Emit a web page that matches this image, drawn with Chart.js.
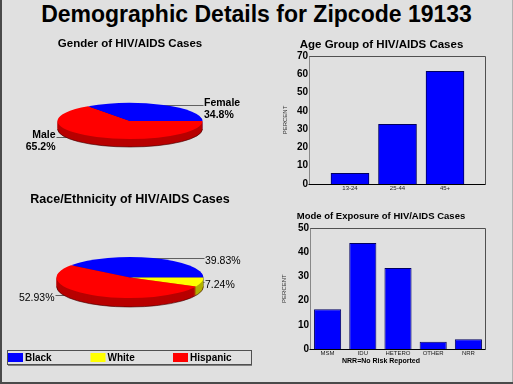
<!DOCTYPE html>
<html>
<head>
<meta charset="utf-8">
<script src="https://cdn.jsdelivr.net/npm/chart.js@4.4.1/dist/chart.umd.min.js"></script>
<style>
  body { margin: 0; }
  #page {
    position: relative; width: 513px; height: 384px; overflow: hidden;
    background: #e0e0e0;
    box-shadow: inset 2px -2px 0 #4a4a4a, inset -1px 0 0 #b0b0b0;
    font-family: 'Liberation Sans', Arial, sans-serif;
  }
  #mainTitle {
    position: absolute; left: 0; top: 1px; width: 513px;
    text-align: center; font-weight: bold; font-size: 23px; line-height: 26px;
  }
  canvas { position: absolute; }
  #genderChart { left: 0; top: 30px; }
  #raceChart { left: 0; top: 185px; }
  #ageChart { left: 277px; top: 36px; }
  #exposureChart { left: 276px; top: 205px; }
</style>
</head>
<body>
<div id="page">
  <div id="mainTitle">Demographic Details for Zipcode 19133</div>
  <canvas id="genderChart" width="260" height="170"></canvas>
  <canvas id="raceChart" width="260" height="185"></canvas>
  <canvas id="ageChart" width="225" height="160"></canvas>
  <canvas id="exposureChart" width="226" height="162"></canvas>
</div>
<script>
// data
const genderLabels = ['Male', 'Female'];
const genderValues = [65.2, 34.8];

const raceLabels = ['Black', 'White', 'Hispanic'];
const raceValues = [39.83, 7.24, 52.93];

const ageGroups = ['13-24', '25-44', '45+'];
const agePercents = [5.8, 32.6, 61.6];

const exposureModes = ['MSM', 'IDU', 'HETERO', 'OTHER', 'NRR'];
const exposurePercents = [16.5, 43.8, 33.5, 3.0, 4.1];

// colours
const BLUE = '#0000ff', RED = '#ff0000', YELLOW = '#ffff00';
const FONT = "'Liberation Sans', Arial, sans-serif";

Chart.defaults.font.family = FONT;
Chart.defaults.color = '#000';

// squashes a pie into a tilted disc, with a side wall and leader-line labels
const pie3d = {
    id: 'pie3d',
    beforeDatasetsDraw(chart, args, o) {
        const ctx = chart.ctx;
        const arcs = chart.getDatasetMeta(0).data;
        const cx = arcs[0].x, cy = arcs[0].y, r = arcs[0].outerRadius;
        const k = o.ry / r;

        // leader lines sit behind the disc
        ctx.save();
        ctx.strokeStyle = '#606060';
        ctx.lineWidth = 1;
        arcs.forEach(a => {
            const m = (a.startAngle + a.endAngle) / 2;
            const px = cx + r * Math.cos(m), py = Math.round(o.cy + o.ry * Math.sin(m)) + 0.5;
            const ex = Math.cos(m) >= 0 ? cx + r + 1 : cx - r - 1;
            ctx.beginPath(); ctx.moveTo(px, py); ctx.lineTo(ex, py); ctx.stroke();
        });
        ctx.restore();

        // side wall
        for (let d = o.depth; d >= 1; d--) {
            arcs.forEach((a, i) => {
                ctx.save();
                ctx.translate(cx, o.cy + d);
                ctx.scale(1, k);
                ctx.beginPath();
                ctx.moveTo(0, 0);
                ctx.arc(0, 0, r, a.startAngle, a.endAngle);
                ctx.closePath();
                ctx.fillStyle = o.sideColors[i];
                ctx.fill();
                ctx.restore();
            });
        }
        ctx.save();
        ctx.translate(cx, o.cy + o.depth);
        ctx.scale(1, k);
        ctx.beginPath();
        ctx.arc(0, 0, r, 0, Math.PI);
        ctx.restore();
        ctx.strokeStyle = 'rgba(60,0,0,0.6)';
        ctx.lineWidth = 1;
        ctx.stroke();

        // top face, drawn by the library
        ctx.save();
        ctx.translate(cx, o.cy);
        ctx.scale(1, k);
        ctx.translate(-cx, -cy);
    },
    afterDatasetsDraw(chart, args, o) {
        const ctx = chart.ctx;
        ctx.restore();
        const arcs = chart.getDatasetMeta(0).data;
        const cx = arcs[0].x, r = arcs[0].outerRadius;
        const values = chart.data.datasets[0].data;
        ctx.save();
        ctx.font = o.font;
        ctx.fillStyle = '#000';
        ctx.textBaseline = 'middle';
        arcs.forEach((a, i) => {
            const m = (a.startAngle + a.endAngle) / 2;
            const py = Math.round(o.cy + o.ry * Math.sin(m)) + 0.5;
            const right = Math.cos(m) >= 0;
            ctx.textAlign = right ? 'left' : 'right';
            const tx = right ? cx + r + 1.5 : cx - r - 2;
            const lines = o.format(chart.data.labels[i], values[i]);
            const y0 = lines.length > 1 ? py - 2.5 : py + 3;
            lines.forEach((t, j) => ctx.fillText(t, tx, y0 + j * 12));
        });
        ctx.restore();
    }
};

// boxed legend with evenly spaced entries
const boxLegend = {
    id: 'boxLegend',
    afterDraw(chart, args, o) {
        const ctx = chart.ctx;
        const colors = chart.data.datasets[0].backgroundColor;
        ctx.save();
        ctx.strokeStyle = '#505050';
        ctx.lineWidth = 1;
        ctx.strokeRect(o.x + 0.5, o.y + 0.5, o.w, o.h);
        ctx.beginPath();
        ctx.moveTo(o.x + 1, o.y + o.h + 1.5);
        ctx.lineTo(o.x + o.w + 1, o.y + o.h + 1.5);
        ctx.strokeStyle = '#808080';
        ctx.stroke();
        ctx.font = 'bold 10px ' + FONT;
        ctx.textBaseline = 'middle';
        chart.data.labels.forEach((lab, i) => {
            const x = o.x + 1 + i * o.step;
            ctx.fillStyle = colors[i];
            ctx.fillRect(x, o.y + 3, 15, 9);
            ctx.fillStyle = '#000';
            ctx.fillText(lab, x + 17, o.y + 8);
        });
        ctx.restore();
    }
};

// frame round the plot area
const plotFrame = {
    id: 'plotFrame',
    afterDatasetsDraw(chart) {
        const {ctx, chartArea: {left, top, right, bottom}} = chart;
        const l = Math.round(left) + 0.5, t = Math.round(top) + 0.5;
        const r = Math.round(right) - 0.5, b = Math.round(bottom) + 0.5;
        ctx.save();
        ctx.lineWidth = 1;
        ctx.strokeStyle = '#505050';
        ctx.beginPath(); ctx.moveTo(l, t); ctx.lineTo(r, t); ctx.lineTo(r, b); ctx.stroke();
        ctx.setLineDash([1, 1]);
        ctx.strokeStyle = '#303030';
        ctx.beginPath(); ctx.moveTo(l, t); ctx.lineTo(l, b); ctx.stroke();
        ctx.setLineDash([]);
        ctx.strokeStyle = '#000';
        ctx.beginPath(); ctx.moveTo(l - 1, b); ctx.lineTo(r, b); ctx.stroke();
        ctx.restore();
    }
};

const baseOpts = {
    responsive: false,
    devicePixelRatio: 1,
    animation: false,
    events: []
};

// Gender pie
new Chart(document.getElementById('genderChart'), {
    type: 'pie',
    data: {
        labels: genderLabels,
        datasets: [{ data: genderValues, backgroundColor: [RED, BLUE], borderWidth: 0 }]
    },
    options: {
        ...baseOpts,
        rotation: 90,
        layout: { padding: { bottom: 2.2 } },
        plugins: {
            legend: { display: false },
            tooltip: { enabled: false },
            title: {
                display: true, text: 'Gender of HIV/AIDS Cases',
                font: { size: 11.5, weight: 'bold' }, padding: { top: 7, bottom: 2 }
            },
            pie3d: {
                cy: 91, ry: 18, depth: 8,
                sideColors: ['#b80000', '#0000a0'],
                font: 'bold 10.5px ' + FONT,
                format: (lab, v) => [lab, v.toFixed(1) + '%']
            }
        }
    },
    plugins: [pie3d]
});

// Race pie
new Chart(document.getElementById('raceChart'), {
    type: 'pie',
    data: {
        labels: raceLabels,
        datasets: [{ data: raceValues, backgroundColor: [BLUE, YELLOW, RED], borderWidth: 0 }]
    },
    options: {
        ...baseOpts,
        rotation: 90 - 3.6 * raceValues[0],
        layout: { padding: { bottom: 14 } },
        plugins: {
            legend: { display: false },
            tooltip: { enabled: false },
            title: {
                display: true, text: 'Race/Ethnicity of HIV/AIDS Cases',
                font: { size: 12.5, weight: 'bold' }, padding: { top: 7, bottom: 2 }
            },
            pie3d: {
                cy: 92.5, ry: 20.5, depth: 9,
                sideColors: ['#0000a0', '#b0b000', '#b80000'],
                font: '10.5px ' + FONT,
                format: (lab, v) => [v.toFixed(2) + '%']
            },
            boxLegend: { x: 7, y: 165, w: 244, h: 14, step: 82.5 }
        }
    },
    plugins: [pie3d, boxLegend]
});

// Age group bars (linear index axis so the bars sit closer than a full third)
new Chart(document.getElementById('ageChart'), {
    type: 'bar',
    data: {
        datasets: [{
            data: agePercents.map((v, i) => ({ x: i, y: v })),
            backgroundColor: BLUE, borderColor: '#000060', borderWidth: 1,
            barThickness: 38
        }]
    },
    options: {
        ...baseOpts,
        layout: { padding: { right: 16 } },
        scales: {
            x: {
                type: 'linear', min: -0.863, max: 2.863, offset: false,
                grid: { display: false, drawTicks: false, offset: false }, border: { display: false },
                afterBuildTicks: s => { s.ticks = ageGroups.map((g, i) => ({ value: i })); },
                afterFit: s => { s.height = 12; },
                ticks: { callback: v => ageGroups[v], font: { size: 6 }, color: '#222', padding: 1, maxRotation: 0, autoSkip: false }
            },
            y: {
                min: 0, max: 70,
                grid: { display: false, drawTicks: false }, border: { display: false },
                afterFit: s => { s.width = 32; },
                ticks: { stepSize: 10, font: { size: 10, weight: 'bold' }, padding: 1 },
                title: { display: true, text: 'PERCENT', font: { size: 6 }, color: '#333', padding: { top: 4.4, bottom: 0 } }
            }
        },
        plugins: {
            legend: { display: false },
            tooltip: { enabled: false },
            title: {
                display: true, text: 'Age Group of HIV/AIDS Cases',
                font: { size: 11.5, weight: 'bold' }, padding: { top: 2, bottom: 4.2 }
            }
        }
    },
    plugins: [plotFrame]
});

// Mode of exposure bars
new Chart(document.getElementById('exposureChart'), {
    type: 'bar',
    data: {
        labels: exposureModes,
        datasets: [{
            data: exposurePercents,
            backgroundColor: BLUE, borderColor: '#000060', borderWidth: 1,
            barPercentage: 0.77, categoryPercentage: 1
        }]
    },
    options: {
        ...baseOpts,
        layout: { padding: { right: 16 } },
        scales: {
            x: {
                grid: { display: false, drawTicks: false }, border: { display: false },
                afterFit: s => { s.height = 7.5; },
                ticks: { font: { size: 6 }, color: '#222', padding: 0.5, maxRotation: 0, autoSkip: false }
            },
            y: {
                min: 0, max: 50,
                grid: { display: false, drawTicks: false }, border: { display: false },
                afterFit: s => { s.width = 34; },
                ticks: { stepSize: 10, font: { size: 10, weight: 'bold' }, padding: 1 },
                title: { display: true, text: 'PERCENT', font: { size: 6 }, color: '#333', padding: { top: 4.4, bottom: 0 } }
            }
        },
        plugins: {
            legend: { display: false },
            tooltip: { enabled: false },
            title: {
                display: true, text: 'Mode of Exposure of HIV/AIDS Cases',
                font: { size: 9.5, weight: 'bold' }, padding: { top: 5.3, bottom: 6.3 }
            },
            subtitle: {
                display: true, position: 'bottom', text: 'NRR=No Risk Reported',
                font: { size: 7, weight: 'bold' }, padding: { top: 0, bottom: 2 }
            }
        }
    },
    plugins: [plotFrame]
});
</script>
</body>
</html>
